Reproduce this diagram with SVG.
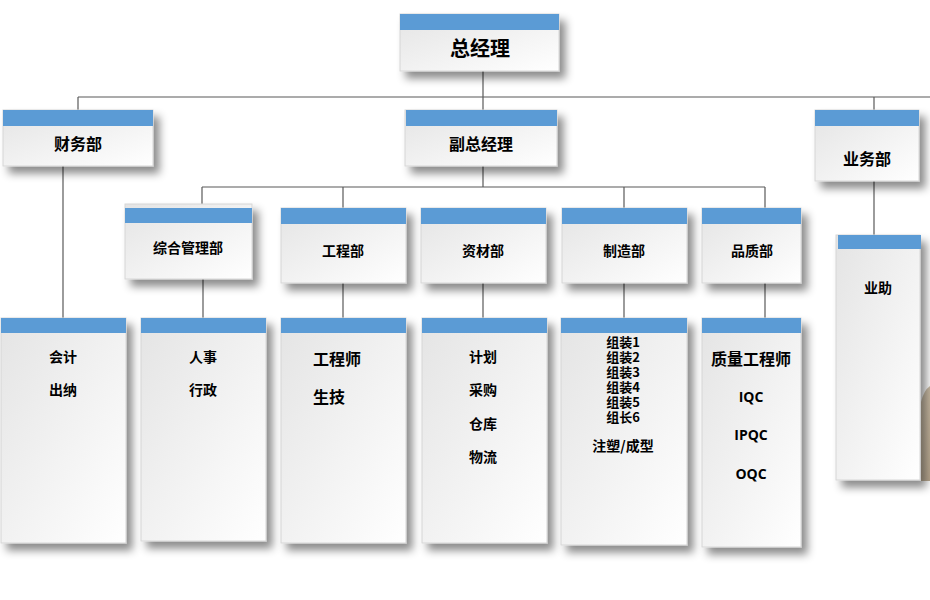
<svg xmlns="http://www.w3.org/2000/svg" width="930" height="600" viewBox="0 0 930 600">
<defs>
<linearGradient id="bodyGrad" x1="0" y1="0" x2="1" y2="1">
<stop offset="0" stop-color="#e4e4e4"/>
<stop offset="1" stop-color="#ffffff"/>
</linearGradient>
<linearGradient id="tanGrad" x1="0" y1="0" x2="1" y2="1">
<stop offset="0" stop-color="#d8cbb6"/>
<stop offset="1" stop-color="#b8a78e"/>
</linearGradient>
<filter id="shadow" x="-20%" y="-20%" width="150%" height="150%">
<feDropShadow dx="6" dy="7" stdDeviation="4" flood-color="#000" flood-opacity="0.45"/>
</filter>
</defs>
<style>
.body{fill:url(#bodyGrad);stroke:#d6d6d6;stroke-width:1;filter:url(#shadow)}
.head{fill:#5b9bd5}
.t{font-family:"Noto Sans CJK SC","Microsoft YaHei",sans-serif;font-weight:bold;fill:#000;text-anchor:middle;dominant-baseline:central}
.l{font-family:"Noto Sans CJK SC",sans-serif;font-weight:bold;fill:#000;dominant-baseline:central}
.e{font-family:"Open Sans","Liberation Sans",sans-serif;font-weight:bold;fill:#000;text-anchor:middle;dominant-baseline:central}
.s13{font-size:13px}
.s14{font-size:14px}
.s16{font-size:16px}
.s20{font-size:20px}
.conn{stroke:#595959;stroke-width:1.2;fill:none}
</style>
<rect width="930" height="600" fill="#ffffff"/>
<path d="M921,402 Q924,390 930,386 L930,481 L921,481 Z" fill="url(#tanGrad)"/>

<g id="connectors" class="conn">
<path d="M483,70 V97"/>
<path d="M78,97 H930"/>
<path d="M78,97 V110"/>
<path d="M483,97 V110"/>
<path d="M874,97 V110"/>
<path d="M63,166 V318"/>
<path d="M874,181 V235"/>
<path d="M483,166 V187"/>
<path d="M202,187 H765"/>
<path d="M202,187 V204"/>
<path d="M343,187 V208"/>
<path d="M624,187 V208"/>
<path d="M765,187 V208"/>
<path d="M203,279 V318"/>
<path d="M343,283 V318"/>
<path d="M483,283 V318"/>
<path d="M624,283 V318"/>
<path d="M765,283 V318"/>
</g>

<g id="node-gm">
<rect class="body" x="400" y="14" width="159" height="57"/>
<rect class="head" x="400" y="14" width="159" height="16"/>
<text class="t s20" x="480" y="47">总经理</text>
</g>

<g id="node-finance">
<rect class="body" x="3" y="110" width="150" height="56"/>
<rect class="head" x="3" y="110" width="150" height="16"/>
<text class="t s16" x="78" y="143">财务部</text>
</g>

<g id="node-vgm">
<rect class="body" x="405" y="110" width="152" height="56"/>
<rect class="head" x="406" y="110" width="151" height="16"/>
<text class="t s16" x="481" y="143">副总经理</text>
</g>

<g id="node-sales">
<rect class="body" x="815" y="110" width="104" height="71"/>
<rect class="head" x="815" y="110" width="104" height="16"/>
<text class="t s16" x="867" y="158">业务部</text>
</g>

<g id="node-admin">
<rect class="body" x="125" y="204" width="127" height="75"/>
<rect class="head" x="125" y="208" width="127" height="15"/>
<text class="t s14" x="188" y="247">综合管理部</text>
</g>

<g id="node-eng">
<rect class="body" x="281" y="208" width="125" height="75"/>
<rect class="head" x="281" y="208" width="125" height="16"/>
<text class="t s14" x="343" y="250">工程部</text>
</g>

<g id="node-material">
<rect class="body" x="421" y="208" width="125" height="75"/>
<rect class="head" x="421" y="208" width="125" height="16"/>
<text class="t s14" x="483" y="250">资材部</text>
</g>

<g id="node-mfg">
<rect class="body" x="562" y="208" width="125" height="75"/>
<rect class="head" x="562" y="208" width="125" height="16"/>
<text class="t s14" x="624" y="250">制造部</text>
</g>

<g id="node-qa">
<rect class="body" x="702" y="208" width="99" height="75"/>
<rect class="head" x="702" y="208" width="99" height="16"/>
<text class="t s14" x="752" y="250">品质部</text>
</g>

<g id="node-sales-assist">
<rect class="body" x="836" y="235" width="84" height="245"/>
<rect class="head" x="838" y="235" width="83" height="14"/>
<text class="t s14" x="878" y="287">业助</text>
</g>

<g id="node-accounting">
<rect class="body" x="1" y="318" width="125" height="225"/>
<rect class="head" x="1" y="318" width="125" height="15"/>
<text class="t s14" x="63" y="356">会计</text>
<text class="t s14" x="63" y="389">出纳</text>
</g>

<g id="node-hr">
<rect class="body" x="141" y="318" width="125" height="223"/>
<rect class="head" x="141" y="318" width="125" height="15"/>
<text class="t s14" x="203" y="356">人事</text>
<text class="t s14" x="203" y="389">行政</text>
</g>

<g id="node-engineers">
<rect class="body" x="281" y="318" width="125" height="225"/>
<rect class="head" x="281" y="318" width="125" height="15"/>
<text class="l s16" x="313" y="358">工程师</text>
<text class="l s16" x="313" y="396">生技</text>
</g>

<g id="node-planning">
<rect class="body" x="422" y="318" width="125" height="225"/>
<rect class="head" x="422" y="318" width="125" height="15"/>
<text class="t s14" x="483" y="356">计划</text>
<text class="t s14" x="483" y="389">采购</text>
<text class="t s14" x="483" y="423">仓库</text>
<text class="t s14" x="483" y="456">物流</text>
</g>

<g id="node-assembly">
<rect class="body" x="561" y="318" width="126" height="227"/>
<rect class="head" x="561" y="318" width="126" height="15"/>
<text class="t s13" x="623" y="341">组装1</text>
<text class="t s13" x="623" y="356">组装2</text>
<text class="t s13" x="623" y="371">组装3</text>
<text class="t s13" x="623" y="386">组装4</text>
<text class="t s13" x="623" y="401">组装5</text>
<text class="t s13" x="623" y="416">组长6</text>
<text class="t s14" x="623" y="445">注塑/成型</text>
</g>

<g id="node-quality">
<rect class="body" x="702" y="318" width="99" height="229"/>
<rect class="head" x="702" y="318" width="99" height="15"/>
<text class="t s16" x="751" y="358">质量工程师</text>
<text class="e s14" x="751" y="396">IQC</text>
<text class="e s14" x="751" y="434">IPQC</text>
<text class="e s14" x="751" y="473">OQC</text>
</g>
</svg>
